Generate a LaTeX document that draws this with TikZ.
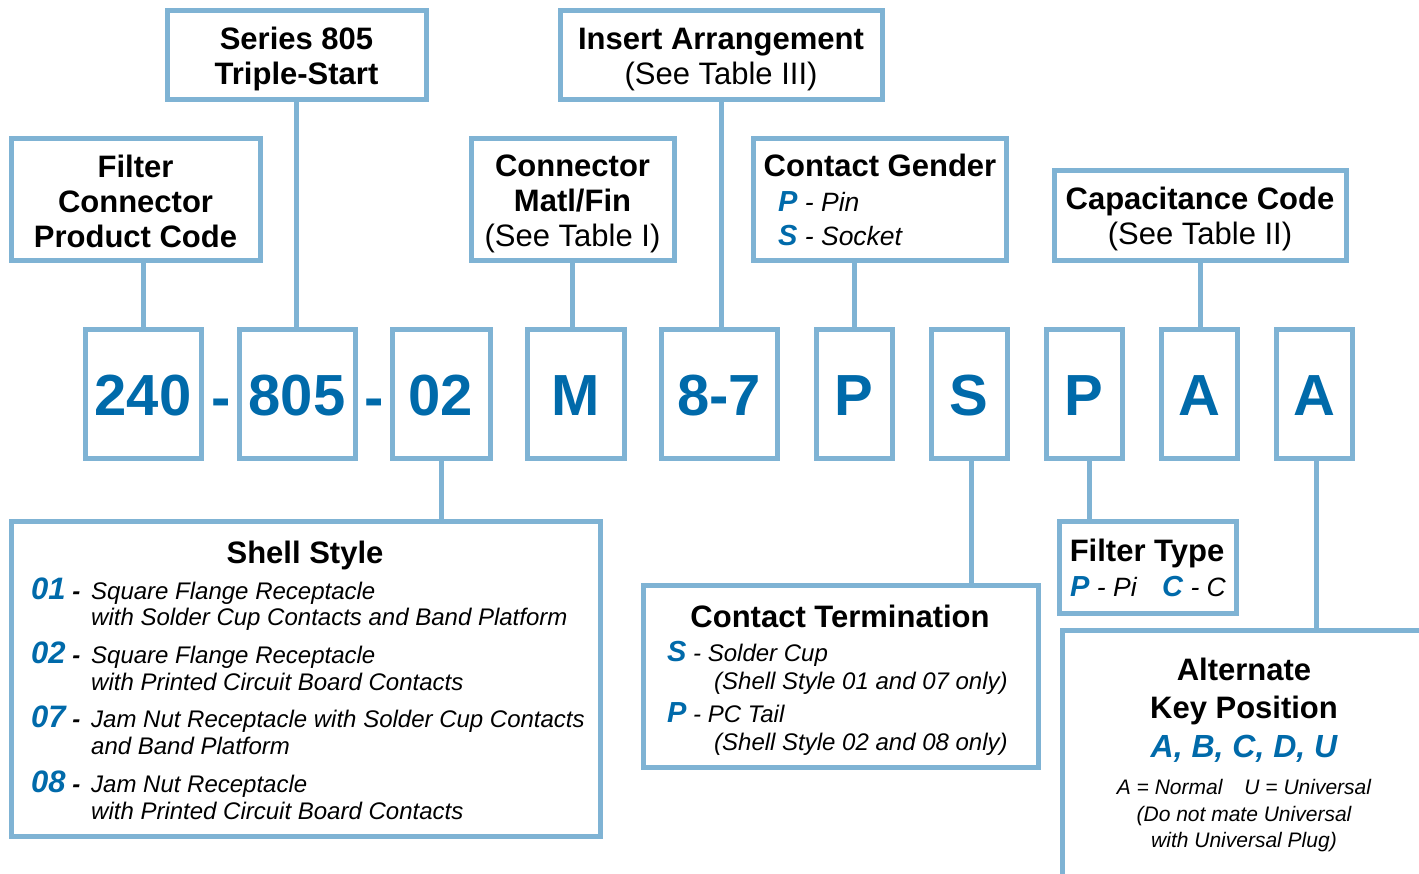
\documentclass[tikz,border=0pt]{standalone}
\usepackage{fontspec}
\setmainfont{Liberation Sans}
\definecolor{lb}{RGB}{127,179,212}
\definecolor{tb}{RGB}{0,106,170}
\newcommand\kf{\fontsize{29}{29}\selectfont\bfseries\itshape\color{tb}}
\newcommand\kfb{\fontsize{31}{31}\selectfont\bfseries\itshape\color{tb}}
\tikzset{
  box/.style={draw=lb, line width=5pt, rectangle, inner sep=0pt, outer sep=0pt, fill=white, anchor=north west},
  conn/.style={draw=lb, line width=5pt},
  ttl/.style={font=\fontsize{31}{35}\selectfont\bfseries, align=center, inner sep=0pt},
  code/.style={font=\fontsize{58}{58}\selectfont\bfseries, text=tb, inner sep=0pt},
  itx/.style={font=\fontsize{24}{27}\selectfont\itshape, inner sep=0pt, anchor=base west},
  itxb/.style={font=\fontsize{26.5}{27}\selectfont\itshape, inner sep=0pt, anchor=base west},
  sml/.style={font=\fontsize{21}{26}\selectfont\itshape, inner sep=0pt, anchor=base},
  hd/.style={font=\fontsize{31}{35}\selectfont\bfseries, inner sep=0pt, anchor=base},
}
\begin{document}
\begin{tikzpicture}[x=1pt,y=-1pt]
\fill[white] (0,0) rectangle (1419,873);
\useasboundingbox (0,0) rectangle (1419,873);
% top boxes
\node[box, minimum width=259, minimum height=89] (series) at (167,10) {};
\node[box, minimum width=322, minimum height=89] (insert) at (560,10) {};
\node[box, minimum width=249, minimum height=122] (filter) at (11,138) {};
\node[box, minimum width=203, minimum height=122] (matl) at (471,138) {};
\node[box, minimum width=253, minimum height=122] (gender) at (753,138) {};
\node[box, minimum width=292, minimum height=90] (cap) at (1054,170) {};
% code boxes
\node[box, minimum width=116, minimum height=129] (c240) at (85,329) {};
\node[box, minimum width=116, minimum height=129] (c805) at (239,329) {};
\node[box, minimum width=98, minimum height=129] (c02) at (392,329) {};
\node[box, minimum width=97, minimum height=129] (cM) at (527,329) {};
\node[box, minimum width=116, minimum height=129] (c87) at (661,329) {};
\node[box, minimum width=76, minimum height=129] (cP) at (816,329) {};
\node[box, minimum width=76, minimum height=129] (cS) at (931,329) {};
\node[box, minimum width=76, minimum height=129] (cPb) at (1046,329) {};
\node[box, minimum width=76, minimum height=129] (cA) at (1161,329) {};
\node[box, minimum width=76, minimum height=129] (cAb) at (1276,329) {};
% bottom boxes
\node[box, minimum width=589, minimum height=315] (shell) at (11,521) {};
\node[box, minimum width=395, minimum height=182] (term) at (643,585) {};
\node[box, minimum width=177, minimum height=92] (ftype) at (1059,521) {};
\begin{scope}
\clip (0,0) rectangle (1419,873);
\node[box, minimum width=400, minimum height=300] (alt) at (1062,630) {};
\end{scope}
% connectors
\draw[conn] (c240.north) -- (c240.north |- filter.south);
\draw[conn] (series.south) -- (series.south |- c805.north);
\draw[conn] (matl.south) -- (matl.south |- cM.north);
\draw[conn] (insert.south) -- (insert.south |- c87.north);
\draw[conn] (cP.north) -- (cP.north |- gender.south);
\draw[conn] (cap.south) -- (cap.south |- cA.north);
\draw[conn] (c02.south) -- (c02.south |- shell.north);
\draw[conn] ([xshift=2pt]cS.south) -- ([xshift=2pt]cS.south |- term.north);
\draw[conn] ([xshift=5pt]cPb.south) -- ([xshift=5pt]cPb.south |- ftype.north);
\draw[conn] ([xshift=2pt]cAb.south) -- ([xshift=2pt]cAb.south |- alt.north);
% top texts
\node[ttl, yshift=-4pt] (tseries) at (series.center) {Series 805\\Triple-Start};
\node[ttl, yshift=-5pt] (tinsert) at (insert.center) {Insert Arrangement\\\mdseries(See Table III)};
\node[ttl, yshift=-2pt] (tfilter) at (filter.center) {Filter\\Connector\\Product Code};
\node[ttl, yshift=-5pt] (tmatl) at (matl.center) {Connector\\Matl/Fin\\\mdseries(See Table I)};
\node[ttl, yshift=-4pt] (tcap) at (cap.center) {Capacitance Code\\\mdseries(See Table II)};
\node[hd] (tgender) at (880,176) {Contact Gender};
\node[itxb] (gP) at (778,211) {{\kf P} - Pin};
\node[itxb] (gS) at (778,245) {{\kf S} - Socket};
% code texts
\node[code, yshift=-2pt] (t240) at (c240.center) {240};
\node[code, yshift=-2pt] (t805) at (c805.center) {805};
\node[code, yshift=-2pt] (t02) at (c02.center) {02};
\node[code, yshift=-2pt] (tM) at (cM.center) {M};
\node[code, yshift=-2pt] (t87) at (c87.center) {8-7};
\node[code, yshift=-2pt] (tP) at (cP.center) {P};
\node[code, yshift=-2pt] (tS) at (cS.center) {S};
\node[code, yshift=-2pt] (tPb) at (cPb.center) {P};
\node[code, yshift=-2pt] (tA) at (cA.center) {A};
\node[code, yshift=-2pt] (tAb) at (cAb.center) {A};
\node[code, anchor=base] (d1) at (221,417) {-};
\node[code, anchor=base] (d2) at (374,417) {-};
% shell style
\node[hd] (tshell) at (305,563) {Shell Style};
\node[itx] (s1a) at (31,599) {\makebox[60pt][l]{{\kfb 01} \textbf{-}}Square Flange Receptacle};
\node[itx] (s1b) at (91,625) {with Solder Cup Contacts and Band Platform};
\node[itx] (s2a) at (31,663) {\makebox[60pt][l]{{\kfb 02} \textbf{-}}Square Flange Receptacle};
\node[itx] (s2b) at (91,690) {with Printed Circuit Board Contacts};
\node[itx] (s3a) at (31,727) {\makebox[60pt][l]{{\kfb 07} \textbf{-}}Jam Nut Receptacle with Solder Cup Contacts};
\node[itx] (s3b) at (91,754) {and Band Platform};
\node[itx] (s4a) at (31,792) {\makebox[60pt][l]{{\kfb 08} \textbf{-}}Jam Nut Receptacle};
\node[itx] (s4b) at (91,819) {with Printed Circuit Board Contacts};
% contact termination
\node[hd] (tterm) at (840,627) {Contact Termination};
\node[itx] (tS1) at (667,661) {{\kf S} - Solder Cup};
\node[itx] (tS2) at (714,689) {(Shell Style 01 and 07 only)};
\node[itx] (tP1) at (667,722) {{\kf P} - PC Tail};
\node[itx] (tP2) at (714,750) {(Shell Style 02 and 08 only)};
% filter type
\node[hd] (tftype) at (1147,561) {Filter Type};
\node[itxb] (fP) at (1070,596) {{\kf P} - Pi};
\node[itxb] (fC) at (1162,596) {{\kf C} - C};
% alternate key
\node[hd] (talt1) at (1244,680) {Alternate};
\node[hd] (talt2) at (1244,718) {Key Position};
\node[inner sep=0pt, anchor=base, font=\fontsize{32}{32}\selectfont\bfseries\itshape, text=tb] (talt3) at (1244,757) {A, B, C, D, U};
\node[sml] (talt4) at (1244,794) {A = Normal\hspace{22pt}U = Universal};
\node[sml] (talt5) at (1244,821) {(Do not mate Universal};
\node[sml] (talt6) at (1244,847) {with Universal Plug)};
\end{tikzpicture}
\end{document}
